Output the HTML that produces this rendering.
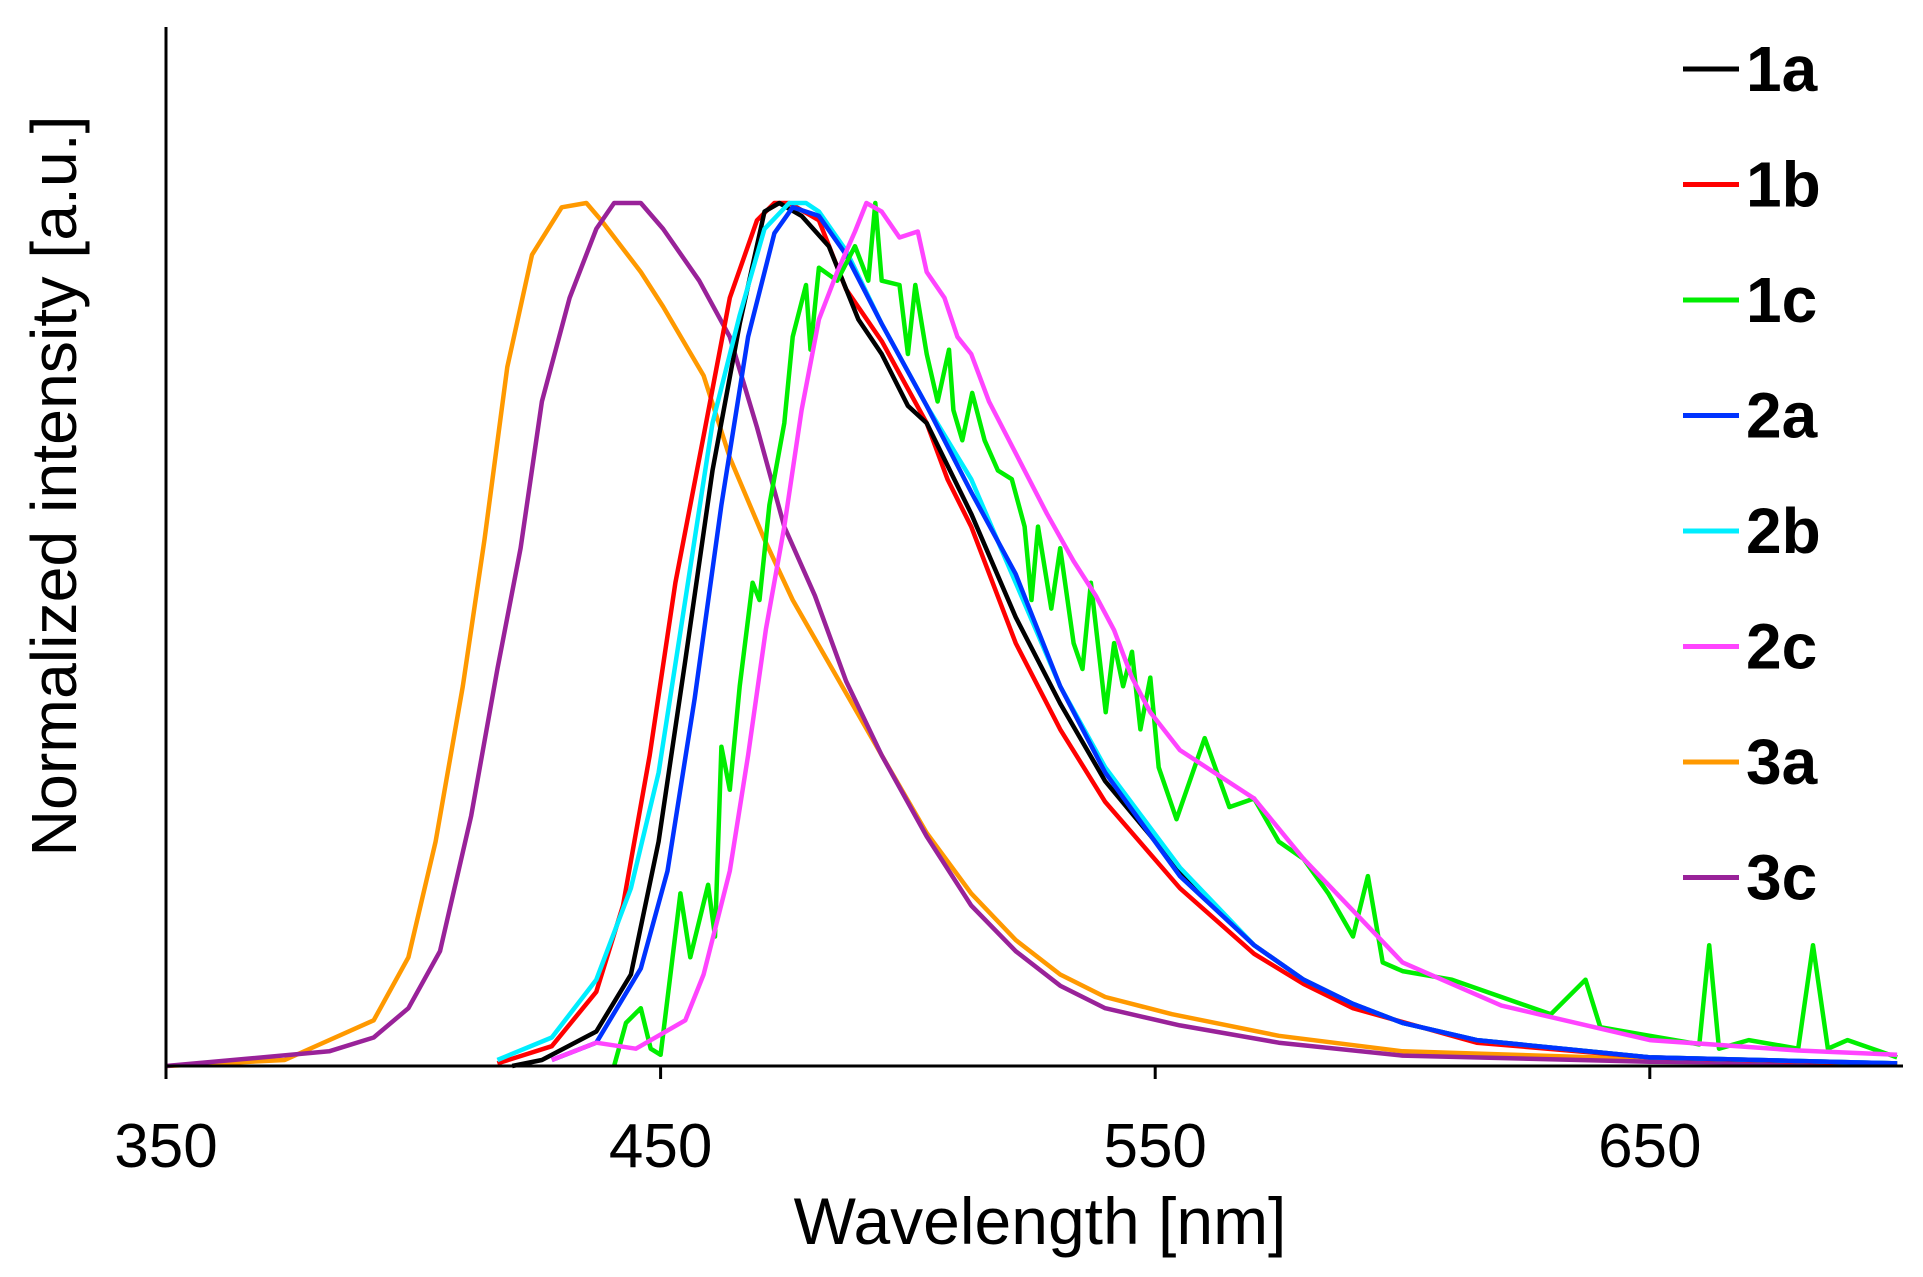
<!DOCTYPE html>
<html><head><meta charset="utf-8"><style>
html,body{margin:0;padding:0;background:#fff}
svg{display:block}
text{font-family:"Liberation Sans",Arial,sans-serif}
</style></head><body>
<svg id="chart" width="1923" height="1277" viewBox="0 0 1923 1277" xmlns="http://www.w3.org/2000/svg">
<g id="series"></g>
<g id="axes"></g>
<g id="legend"></g>
<text x="1040" y="1244" font-size="66" text-anchor="middle">Wavelength [nm]</text>
<text transform="translate(76,486) rotate(-90)" font-size="64" text-anchor="middle" textLength="741" lengthAdjust="spacingAndGlyphs">Normalized intensity [a.u.]</text>
</svg>
<script>
const seriesNames = ["1a","1b","1c","2a","2b","2c","3a","3c"];
const seriesColors = ["#000000","#ff0000","#00ee00","#0033ff","#00eeff","#ff44ff","#ff9900","#992299"];
const xTicks = [350,450,550,650];
const w1a = [420,426,437,444,449.6,455,460.5,466,471,474,478.5,484,490,494.7,500,503.8,512.8,521.8,530.8,539.9,555,570,580,590,600,615,650,700];
const i1a = [0,0.007,0.04,0.106,0.26,0.47,0.69,0.86,0.99,1.0,0.985,0.95,0.865,0.825,0.765,0.745,0.64,0.52,0.42,0.33,0.226,0.14,0.1,0.072,0.05,0.03,0.01,0.003];
const w1b = [417,428,437,442.4,447.8,453,458.7,464,469.5,473,476,482,487.5,494.7,503.8,508,512.8,521.8,530.8,539.9,555,570,580,590,615,650,700];
const i1b = [0.003,0.023,0.086,0.186,0.36,0.56,0.73,0.89,0.98,1.0,1.0,0.98,0.9,0.84,0.745,0.68,0.625,0.49,0.39,0.306,0.206,0.13,0.095,0.067,0.027,0.01,0.002];
const w1c = [440.6,443,446,448,450,454,456,459.6,461,462.3,464,466,468.6,470,472,475,476.7,479.4,480.3,482,485.7,489.3,492,493.4,494.7,498.3,500,501.5,503.8,506,508.3,509.2,511,513,515.5,518.2,521,523.6,525,526.3,529,530.8,533.5,535.3,537,540,541.7,543.5,545.3,547,549,550.7,554.3,560,565,570,575,580,585,590,593,596,600,610,620,630,637,640,650,660,662,664,670,680,683,686,690,700];
const i1c = [0,0.05,0.067,0.02,0.013,0.2,0.126,0.21,0.15,0.37,0.32,0.44,0.56,0.54,0.65,0.745,0.845,0.905,0.83,0.925,0.91,0.95,0.91,1.0,0.91,0.905,0.825,0.905,0.825,0.77,0.83,0.76,0.725,0.78,0.725,0.69,0.68,0.625,0.54,0.625,0.53,0.6,0.49,0.46,0.56,0.41,0.49,0.44,0.48,0.39,0.45,0.346,0.286,0.38,0.3,0.31,0.26,0.24,0.2,0.15,0.22,0.12,0.11,0.1,0.08,0.06,0.1,0.045,0.035,0.025,0.14,0.02,0.03,0.02,0.14,0.02,0.03,0.01];
const w2a = [428,437,446,451.4,456.9,462.3,467.7,473,476.7,482,487.5,494.7,503.8,512.8,521.8,530.8,539.9,555,570,580,590,600,615,650,700];
const i2a = [0.007,0.027,0.113,0.226,0.426,0.65,0.845,0.965,0.995,0.985,0.94,0.86,0.765,0.665,0.57,0.44,0.34,0.22,0.14,0.1,0.072,0.05,0.03,0.01,0.003];
const w2b = [417,428,437,444,449.6,455,460.5,466,471,476,479.4,482,487.5,494.7,503.8,512.8,521.8,530.8,539.9,555,570,580,590,600,615,650,700];
const i2b = [0.007,0.033,0.1,0.206,0.34,0.54,0.745,0.87,0.97,1.0,1.0,0.99,0.945,0.86,0.765,0.68,0.56,0.44,0.346,0.23,0.14,0.1,0.072,0.05,0.03,0.01,0.003];
const w2c = [428,437,445,455,458.7,464,467.7,471.3,475,478.5,482,485.7,489.3,491.6,494.7,498.3,502,503.8,507.4,510,512.8,516.4,520,523.6,528.1,533.5,538,541.7,545.3,549,555,570,580,600,620,650,680,700];
const i2c = [0.007,0.027,0.02,0.053,0.106,0.226,0.36,0.506,0.625,0.76,0.865,0.92,0.967,1.0,0.99,0.96,0.967,0.92,0.89,0.845,0.825,0.77,0.73,0.69,0.64,0.585,0.545,0.505,0.45,0.41,0.366,0.31,0.24,0.12,0.07,0.03,0.018,0.013];
const w3a = [350,374,392,399,404.5,410,414.4,419,424,430,435,438,446,450.5,458.7,464,471,476.7,485.7,494.7,503.8,512.8,521.8,530.8,539.9,553.4,575,600,650,700];
const i3a = [0,0.007,0.053,0.126,0.26,0.44,0.61,0.81,0.94,0.995,1.0,0.98,0.92,0.88,0.8,0.705,0.61,0.54,0.45,0.36,0.27,0.2,0.146,0.106,0.08,0.06,0.035,0.017,0.008,0.003];
const w3c = [350,383,392,399,405.4,411.7,417,421.7,426,431.6,437,440.6,446,450.5,457.8,464,469.5,475,481.2,487.5,494.7,503.8,512.8,521.8,530.8,539.9,555,575,600,650,700];
const i3c = [0,0.017,0.033,0.067,0.133,0.29,0.46,0.6,0.77,0.89,0.97,1.0,1.0,0.97,0.91,0.845,0.74,0.625,0.545,0.446,0.36,0.266,0.186,0.133,0.093,0.067,0.047,0.027,0.012,0.005,0.003];
const seriesW = [w1a,w1b,w1c,w2a,w2b,w2c,w3a,w3c];
const seriesI = [i1a,i1b,i1c,i2a,i2b,i2c,i3a,i3c];

const NS = "http://www.w3.org/2000/svg";
const X0 = 166, XR = 1903, Y0 = 1066, YTOP = 27;
function xScale(nm){ return X0 + (nm - 350) * 4.946; }
function yScale(v){ return Y0 - v * 863; }

const gS = document.getElementById('series');
const drawOrder = [6,7,1,0,4,3,2,5];
for (const k of drawOrder) {
  const p = document.createElementNS(NS,'path');
  let d = '';
  seriesW[k].forEach((w,j)=>{ d += (j?'L':'M') + xScale(w).toFixed(1) + ',' + yScale(seriesI[k][j]).toFixed(1); });
  p.setAttribute('d', d);
  p.setAttribute('fill','none');
  p.setAttribute('stroke', seriesColors[k]);
  p.setAttribute('stroke-width','4.5');
  p.setAttribute('stroke-linejoin','round');
  
  
  gS.appendChild(p);
}

const gA = document.getElementById('axes');
const yAxis = document.createElementNS(NS,'line');
yAxis.setAttribute('x1',X0); yAxis.setAttribute('x2',X0); yAxis.setAttribute('y1',YTOP); yAxis.setAttribute('y2',Y0+1);
yAxis.setAttribute('stroke','#000'); yAxis.setAttribute('stroke-width','3');


gA.appendChild(yAxis);
const xAxis = document.createElementNS(NS,'line');
xAxis.setAttribute('x1',X0-1.5); xAxis.setAttribute('x2',XR); xAxis.setAttribute('y1',Y0); xAxis.setAttribute('y2',Y0);
xAxis.setAttribute('stroke','#000'); xAxis.setAttribute('stroke-width','3');


gA.appendChild(xAxis);
for (const t of xTicks) {
  const tk = document.createElementNS(NS,'line');
  tk.setAttribute('x1',xScale(t)); tk.setAttribute('x2',xScale(t)); tk.setAttribute('y1',Y0); tk.setAttribute('y2',Y0+13);
  tk.setAttribute('stroke','#000'); tk.setAttribute('stroke-width','3');
  
  
  gA.appendChild(tk);
  const tl = document.createElementNS(NS,'text');
  tl.setAttribute('x',xScale(t)); tl.setAttribute('y',1167);
  tl.setAttribute('font-size','62'); tl.setAttribute('text-anchor','middle');
  tl.textContent = t;
  
  
  gA.appendChild(tl);
}

const gL = document.getElementById('legend');
seriesNames.forEach((n,k)=>{
  const by = 91 + k * 115.5;
  const ln = document.createElementNS(NS,'line');
  ln.setAttribute('x1',1683); ln.setAttribute('x2',1739); ln.setAttribute('y1',by-22); ln.setAttribute('y2',by-22);
  ln.setAttribute('stroke',seriesColors[k]); ln.setAttribute('stroke-width','5');
  
  
  gL.appendChild(ln);
  const tx = document.createElementNS(NS,'text');
  tx.setAttribute('x',1746); tx.setAttribute('y',by);
  tx.setAttribute('font-size','64'); tx.setAttribute('font-weight','bold');
  tx.textContent = n;
  
  
  gL.appendChild(tx);
});
</script>
</body></html>
